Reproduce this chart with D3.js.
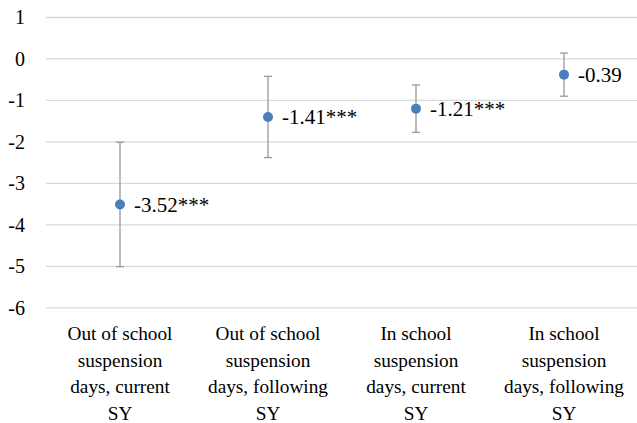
<!DOCTYPE html>
<html><head><meta charset="utf-8">
<script src="https://cdn.jsdelivr.net/npm/d3@7"></script>
<style>body{margin:0;background:#fff}svg{display:block}
text{font-family:"Liberation Serif","Tinos","Times New Roman","Nimbus Roman","DejaVu Serif",serif;}</style>
</head><body><svg id="c" width="637" height="423"></svg>
<script>
const categories = [
  ["Out of school","suspension","days, current","SY"],
  ["Out of school","suspension","days, following","SY"],
  ["In school","suspension","days, current","SY"],
  ["In school","suspension","days, following","SY"]
];
const estimates = [-3.52, -1.41, -1.21, -0.39];
const lower = [-5.02, -2.39, -1.78, -0.91];
const upper = [-2.02, -0.43, -0.64, 0.13];
const pointLabels = ["-3.52***", "-1.41***", "-1.21***", "-0.39"];
const yTicks = [1, 0, -1, -2, -3, -4, -5, -6];

const svg = d3.select("#c");
const x = d3.scaleBand().domain(d3.range(categories.length)).range([46, 638]);
const y = d3.scaleLinear().domain([-6, 1]).range([307.3, 17]);

const yAxis = d3.axisLeft(y).tickValues(yTicks).tickSize(-592).tickPadding(21).tickFormat(d3.format("d"));
const ga = svg.append("g").attr("transform", "translate(46,0)").call(yAxis);
ga.attr("font-family", null);
ga.select(".domain").remove();
ga.selectAll(".tick line").attr("stroke", "#d9d9d9").attr("stroke-width", 1.3);
ga.selectAll(".tick text").attr("font-size", 20).attr("fill", "#000")
  .attr("text-anchor", "end").attr("dy", "0.34em");
ga.selectAll(".tick text").text(d => d < 0 ? "-" + Math.abs(d) : d);

// category labels
const cat = svg.append("g");
categories.forEach((lines, i) => {
  const t = cat.append("text").attr("text-anchor", "middle")
    .attr("font-size", 19.3).attr("fill", "#000");
  lines.forEach((ln, j) => {
    t.append("tspan").attr("x", x(i) + x.bandwidth() / 2).attr("y", 333.5 + j * 26.6).attr("dy", "0.34em").text(ln);
  });
});

const cx = i => x(i) + x.bandwidth() / 2;
const g = svg.append("g");
estimates.forEach((v, i) => {
  const col = "#999999";
  g.append("line").attr("x1", cx(i)).attr("x2", cx(i)).attr("y1", y(upper[i])).attr("y2", y(lower[i]))
    .attr("stroke", col).attr("stroke-width", 1.3);
  [upper[i], lower[i]].forEach(b => {
    g.append("line").attr("x1", cx(i) - 4).attr("x2", cx(i) + 4).attr("y1", y(b)).attr("y2", y(b))
      .attr("stroke", col).attr("stroke-width", 1.3);
  });
  g.append("circle").attr("cx", cx(i)).attr("cy", y(v)).attr("r", 5).attr("fill", "#4a7ebb");
  g.append("text").attr("x", cx(i) + 14).attr("y", y(v)).attr("dy", "0.34em")
    .attr("font-size", 21).attr("fill", "#000").text(pointLabels[i]);
});
</script></body></html>
